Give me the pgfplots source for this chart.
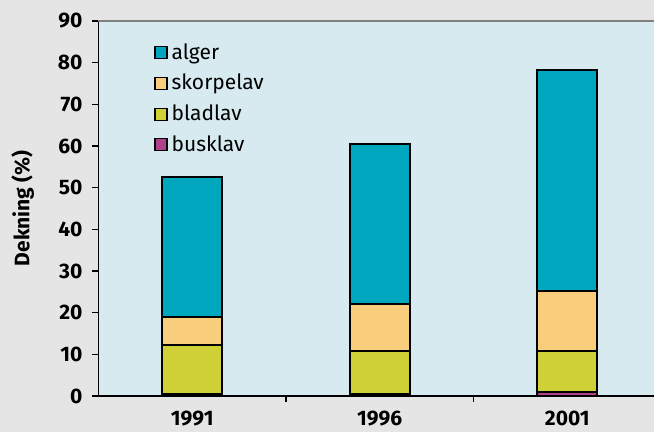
\documentclass[border=0pt]{standalone}
\usepackage{fontspec}
\setmainfont{Fira Sans}
\usepackage{pgfplots}
\pgfplotsset{compat=1.18}
\definecolor{alger}{HTML}{00A7BF}
\definecolor{skorpelav}{HTML}{F8CD7B}
\definecolor{bladlav}{HTML}{CFD036}
\definecolor{busklav}{HTML}{B0408C}
\definecolor{plotbg}{HTML}{D6EAF0}
\definecolor{outbg}{HTML}{E5E5E5}
\begin{document}
\begin{tikzpicture}
\fill[outbg] (0,0) rectangle (327pt,216pt);
\useasboundingbox (0,0) rectangle (327pt,216pt);
\clip (0,0) rectangle (327pt,216pt);
\begin{axis}[
  at={(49.25pt,18pt)}, anchor=south west,
  scale only axis, width=281.25pt, height=187.5pt,
  xmin=-0.5, xmax=2.5, ymin=0, ymax=90,
  ybar stacked, bar width=30pt,
  axis lines=left, axis line style={-, line width=0.75pt, black},
  axis background/.style={fill=plotbg},
  xtick={0,1,2}, xticklabels={1991,1996,2001},
  minor xtick={0.5,1.5},
  major x tick style={draw=none},
  minor x tick style={black, line width=0.6pt},
  ytick={0,10,...,90},
  y tick style={black, line width=0.6pt},
  tick align=outside, major tick length=3pt, minor tick length=3pt,
  /pgf/number format/assume math mode=true,
  tick label style={font=\fontsize{10.5}{12}\selectfont\bfseries},
  xticklabel style={yshift=-0.8pt},
  yticklabel style={xshift=-1.5pt},
  ylabel={Dekning (\%)},
  ylabel style={at={(axis description cs:-0.135,0.5)}, anchor=center, font=\fontsize{10.5}{12}\selectfont\bfseries},
  every axis plot/.append style={draw=black, line width=1pt},
  reverse legend,
  legend cell align=left,
  legend style={at={(0.088,0.963)}, anchor=north west, draw=none, fill=none,
    font=\fontsize{10.5}{12}\selectfont, row sep=2pt},
  legend image code/.code={\draw[#1, line width=0.6pt] (0pt,-3pt) rectangle (6pt,3pt);},
]
\addplot[fill=busklav] coordinates {(0,0.5) (1,0.5) (2,1.0)};
\addplot[fill=bladlav] coordinates {(0,11.7) (1,10.3) (2,9.8)};
\addplot[fill=skorpelav] coordinates {(0,6.8) (1,11.3) (2,14.4)};
\addplot[fill=alger] coordinates {(0,33.6) (1,38.4) (2,53.0)};
\legend{busklav,bladlav,skorpelav,alger}
\draw[gray, line width=0.8pt] (rel axis cs:0,1) -- (rel axis cs:1,1);
\end{axis}
\end{tikzpicture}
\end{document}
